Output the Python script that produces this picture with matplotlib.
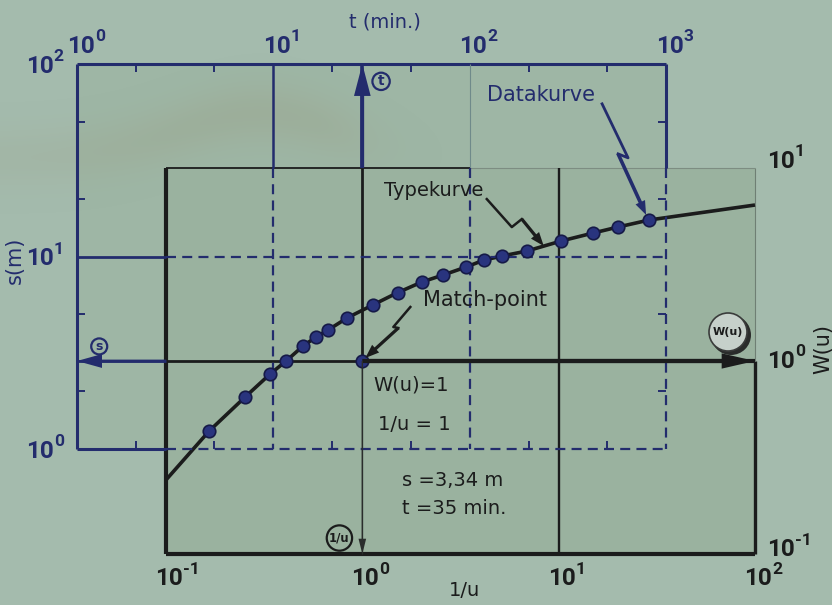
import numpy as np
import matplotlib
matplotlib.use("Agg")
import matplotlib.pyplot as plt
from matplotlib.lines import Line2D
from matplotlib.patches import FancyArrowPatch, Rectangle, Circle
from matplotlib.transforms import IdentityTransform
from matplotlib.ticker import FixedLocator, NullFormatter

# ---------------------------------------------------------------- data
# Data curve: measured drawdown s (m) against time t (min)
t_min = [4.7, 7.2, 9.6, 11.6, 14.2, 16.5, 19.0, 23.7, 32, 43,
         57, 73, 96, 118, 146, 196, 292, 425, 570, 820]
s_m = [1.24, 1.86, 2.45, 2.87, 3.43, 3.82, 4.15, 4.79, 5.60, 6.46,
       7.37, 8.01, 8.82, 9.59, 10.06, 10.7, 12.0, 13.2, 14.2, 15.5]

# Type curve: W(u) against 1/u
inv_u = [0.1, 0.166, 0.253, 0.339, 0.409, 0.499, 0.581, 0.669, 0.836,
         1.13, 1.50, 2.01, 2.58, 3.38, 4.17, 5.15, 6.90, 10.3, 15.0,
         20.1, 28.9, 100]
w_u = [0.242, 0.434, 0.651, 0.856, 1.0, 1.196, 1.331, 1.447, 1.671,
       1.951, 2.251, 2.567, 2.790, 3.069, 3.337, 3.499, 3.715, 4.186,
       4.605, 4.947, 5.378, 6.43]

match_inv_u = 1.0
match_w = 1.0
match_s = "3,34"
match_t = "35"

t_decades = [1, 10, 100, 1000]
s_decades = [1, 10, 100]
inv_u_decades = [0.1, 1, 10, 100]
w_decades = [0.1, 1, 10]
minor_steps = [2, 5]

# ---------------------------------------------------------------- style
W_PX, H_PX = 832, 605
BG = '#a4bbad'
DATA_FILL = '#9eb6a5'
TYPE_FILL = '#9ab29f'
NAVY = '#232c6d'
INK = '#1b1c1c'
FONT = 'DejaVu Sans'
NUM_FONT = ['Roboto', 'DejaVu Sans']

plt.rcParams['font.family'] = [FONT]

fig = plt.figure(figsize=(W_PX / 100, H_PX / 100), dpi=100, facecolor=BG)


def box(x0, y0, x1, y1):
    return [x0 / W_PX, 1 - y1 / H_PX, (x1 - x0) / W_PX, (y1 - y0) / H_PX]


def px(x, y):
    return x / W_PX, 1 - y / H_PX


ax_w = fig.add_axes(box(166, 168, 755, 554), zorder=1)   # type-curve sheet
ax_d = fig.add_axes(box(77, 64, 666, 449), zorder=2)     # data sheet (transparent)

for ax in (ax_d, ax_w):
    ax.set_xscale('log')
    ax.set_yscale('log')
    for sp in ax.spines.values():
        sp.set_visible(False)

ax_d.set_xlim(t_decades[0], t_decades[-1])
ax_d.set_ylim(s_decades[0], s_decades[-1])
ax_w.set_xlim(inv_u_decades[0], inv_u_decades[-1])
ax_w.set_ylim(w_decades[0], w_decades[-1])

ax_d.patch.set_facecolor('none')
ax_w.patch.set_facecolor(TYPE_FILL)
fig.add_artist(Rectangle((0, 0), 1, 1, transform=ax_d.transAxes,
                         fc=DATA_FILL, ec='none', zorder=0.5))

# faint brownish stain across the upper part of the data sheet
yy, xx = np.mgrid[0:H_PX, 0:W_PX].astype(float)
centre = 158 - 45 * np.exp(-((xx - 260) / 120) ** 2)
env = np.exp(-(np.clip(xx - 310, 0, None) / 70) ** 2) * (0.55 + 0.45 * np.exp(-((xx - 250) / 140) ** 2))
inten = np.exp(-((yy - centre) / 30) ** 2) * env
stain = np.zeros((H_PX, W_PX, 4))
stain[..., 0] = 152 / 255
stain[..., 1] = 148 / 255
stain[..., 2] = 118 / 255
stain[..., 3] = 0.22 * inten
fig.figimage(stain, 0, 0, origin='upper', zorder=0.7)

# ---------------------------------------------------------------- ticks
ax_d.xaxis.set_major_locator(FixedLocator(t_decades))
ax_d.yaxis.set_major_locator(FixedLocator(s_decades))
ax_d.xaxis.set_minor_locator(FixedLocator([m * d for d in t_decades[:-1] for m in minor_steps]))
ax_d.yaxis.set_minor_locator(FixedLocator([m * d for d in s_decades[:-1] for m in minor_steps]))
for axis in (ax_d.xaxis, ax_d.yaxis, ax_w.xaxis, ax_w.yaxis):
    axis.set_major_formatter(NullFormatter())
    axis.set_minor_formatter(NullFormatter())
ax_d.tick_params(which='major', length=0, labelbottom=False, labelleft=False)
ax_d.tick_params(which='minor', direction='in', length=6, width=1.4, color=NAVY,
                 top=True, bottom=True, left=True, right=True)
ax_w.xaxis.set_major_locator(FixedLocator(inv_u_decades))
ax_w.yaxis.set_major_locator(FixedLocator(w_decades))
ax_w.xaxis.set_minor_locator(FixedLocator([]))
ax_w.yaxis.set_minor_locator(FixedLocator([]))
ax_w.tick_params(which='major', length=0, labelbottom=False, labelleft=False)


def power_label(ax, xy, coords, value, offset, ha, color):
    """Decade label drawn as '10' with a raised exponent."""
    exp = int(round(np.log10(value)))
    base = ax.annotate('10', xy=xy, xycoords=coords, xytext=offset,
                       textcoords='offset points', ha=ha, va='baseline',
                       fontsize=17.5, fontweight='bold', family=NUM_FONT,
                       color=color, annotation_clip=False, zorder=9)
    ax.annotate('%d' % exp, xy=(1, 1), xycoords=base, xytext=(0.2, -1.5),
                textcoords='offset points', ha='left', va='center',
                fontsize=12.5, fontweight='bold', family=NUM_FONT, color=color,
                annotation_clip=False, zorder=9)


for v in t_decades:
    power_label(ax_d, (v, 1), ('data', 'axes fraction'), v, (2.5, 8), 'center', NAVY)
for v in s_decades:
    power_label(ax_d, (0, v), ('axes fraction', 'data'), v, (-17, -6.3), 'right', NAVY)
for v in inv_u_decades:
    power_label(ax_w, (v, 0), ('data', 'axes fraction'), v, (2, -22.5), 'center', INK)
for v, dy in zip(w_decades, [-1.8, -4.8, 0.3]):
    power_label(ax_w, (1, v), ('axes fraction', 'data'), v, (8.6, dy), 'left', INK)


# ---------------------------------------------------------------- helpers
def w2d(x, y):
    """Type-sheet coordinates -> data-sheet coordinates."""
    return ax_d.transData.inverted().transform(ax_w.transData.transform((x, y)))


def seg(ax, xs, ys, color, lw, style='-', alpha=1.0, z=3):
    kw = dict(color=color, lw=lw, alpha=alpha, clip_on=False, zorder=z,
              solid_capstyle='butt')
    if style == '--':
        ax.plot(xs, ys, ls=(0, (4.5, 2.8)), dash_capstyle='butt', **kw)
    else:
        ax.plot(xs, ys, **kw)


def arrow(p0, p1, color, tail, hl, hw, transform, z=4):
    """Filled arrow whose tip sits exactly on p1 (sizes in points)."""
    a = FancyArrowPatch(p0, p1, transform=transform,
                        arrowstyle='simple,head_length=%g,head_width=%g,tail_width=%g'
                        % (hl, hw, tail),
                        fc=color, ec='none', lw=0, shrinkA=0, shrinkB=0,
                        mutation_scale=1, clip_on=False, zorder=z)
    fig.add_artist(a)


def bolt(ax, target, offsets, color, lw):
    tx, ty = ax.transData.transform(target)
    xs = [tx + dx for dx, dy in offsets]
    ys = [ty + dy for dx, dy in offsets]
    fig.add_artist(Line2D(xs[:-1], ys[:-1], color=color, lw=lw,
                          transform=IdentityTransform(), zorder=6))
    arrow((xs[-2], ys[-2]), (xs[-1], ys[-1]), color, lw * 1.3, 10, 7.5,
          IdentityTransform(), z=6)


t_left, s_top = w2d(inv_u_decades[0], w_decades[-1])
t_mp, s_mp = w2d(match_inv_u, match_w)
inv_u_at_t100 = ax_w.transData.inverted().transform(ax_d.transData.transform((100, 1)))[0]

# ---------------------------------------------------------------- type sheet
lo_w, hi_w = w_decades[0], w_decades[-1]
lo_x, hi_x = inv_u_decades[0], inv_u_decades[-1]
seg(ax_w, [lo_x, lo_x], [lo_w, hi_w], INK, 3.0)
seg(ax_w, [lo_x, hi_x], [lo_w, lo_w], INK, 3.0)
seg(ax_w, [hi_x, hi_x], [lo_w, match_w], INK, 2.4)
seg(ax_w, [hi_x, hi_x], [match_w, hi_w], '#6f7f74', 0.8)
seg(ax_w, [lo_x, inv_u_at_t100], [hi_w, hi_w], INK, 1.3)
seg(ax_w, [inv_u_at_t100, hi_x], [hi_w, hi_w], '#7d8d82', 0.8)
seg(ax_w, [10, 10], [lo_w, hi_w], INK, 1.7)
seg(ax_w, [match_inv_u, match_inv_u], [match_w, hi_w], INK, 2.0)
seg(ax_w, [lo_x, match_inv_u], [match_w, match_w], INK, 2.0)
seg(ax_w, [match_inv_u, hi_x], [match_w, match_w], INK, 3.0)
seg(ax_w, [match_inv_u, match_inv_u], [lo_w, match_w], '#2a2d2c', 0.9)
arrow((match_inv_u, match_w), (hi_x, match_w), INK, 3.0, 24, 11, ax_w.transData, z=4)
arrow((match_inv_u, match_w), (match_inv_u, lo_w), '#2a2d2c', 1.0, 11, 5.5,
      ax_w.transData, z=4)

# type curve
ax_w.plot(inv_u, w_u, color=INK, lw=2.6, zorder=5, solid_capstyle='butt', clip_on=False)

# ---------------------------------------------------------------- data sheet
lo_t, hi_t = t_decades[0], t_decades[-1]
lo_s, hi_s = s_decades[0], s_decades[-1]
seg(ax_d, [lo_t, lo_t], [lo_s, hi_s], NAVY, 2.2)
seg(ax_d, [lo_t, hi_t], [hi_s, hi_s], NAVY, 2.2)
seg(ax_d, [hi_t, hi_t], [hi_s, s_top], NAVY, 2.2)
seg(ax_d, [hi_t, hi_t], [s_top, lo_s], NAVY, 1.6, '--')
seg(ax_d, [10, 10], [hi_s, s_top], NAVY, 1.8)
seg(ax_d, [10, 10], [s_top, lo_s], NAVY, 1.6, '--')
seg(ax_d, [100, 100], [hi_s, s_top], '#6f8a8a', 0.8)
seg(ax_d, [100, 100], [s_top, lo_s], NAVY, 1.6, '--')
seg(ax_d, [lo_t, t_left], [10, 10], NAVY, 2.0)
seg(ax_d, [t_left, hi_t], [10, 10], NAVY, 1.6, '--')
seg(ax_d, [lo_t, t_left], [lo_s, lo_s], NAVY, 2.2)
seg(ax_d, [t_left, hi_t], [lo_s, lo_s], NAVY, 1.6, '--')

# match-point transfer lines
seg(ax_d, [t_mp, t_mp], [s_top, hi_s], NAVY, 2.6)
seg(ax_d, [lo_t, t_left], [s_mp, s_mp], NAVY, 2.0)
arrow((t_mp, s_top), (t_mp, hi_s), NAVY, 2.6, 23, 12, ax_d.transData, z=4)
arrow((t_left, s_mp), (lo_t, s_mp), NAVY, 2.0, 18, 10, ax_d.transData, z=4)

# measured points and the match point
ax_d.plot(t_min, s_m, 'o', ms=9, mfc='#29347e', mec='#161a48', mew=1.2,
          zorder=7, clip_on=False)
ax_w.plot([match_inv_u], [match_w], 'o', ms=9, mfc='#29347e', mec='#161a48',
          mew=1.2, zorder=7)

# ---------------------------------------------------------------- circled marks
circ = dict(boxstyle='circle,pad=0.12', fc='none', lw=1.6)
ax_d.annotate('t', xy=(t_mp, hi_s), xytext=(13.5, -12.5), textcoords='offset points',
              ha='center', va='center', fontsize=10, fontweight='bold', color=NAVY,
              bbox=dict(circ, ec=NAVY), annotation_clip=False, zorder=8)
ax_d.annotate('s', xy=(lo_t, s_mp), xytext=(16, 10.5), textcoords='offset points',
              ha='center', va='center', fontsize=9, fontweight='bold', color=NAVY,
              bbox=dict(circ, ec=NAVY), annotation_clip=False, zorder=8)

# W(u) badge with a drop shadow
bx, by = ax_w.transData.transform((hi_x, match_w))
cx, cy = bx - 27, by + 29
fig.add_artist(Circle((cx + 3, cy - 3), 20, transform=IdentityTransform(),
                      fc='#2a2c2b', ec='none', zorder=8))
fig.add_artist(Circle((cx, cy), 19, transform=IdentityTransform(),
                      fc='#c6d0ca', ec='#3a3c3b', lw=1.2, zorder=9))
fig.text(cx / W_PX, cy / H_PX, 'W(u)', ha='center', va='center', fontsize=8,
         fontweight='bold', color=INK, zorder=10)

ax_w.annotate('1/u', xy=(match_inv_u, lo_w), xytext=(-16.5, 11.5), textcoords='offset points',
              ha='center', va='center', fontsize=8.5, fontweight='bold', color=INK,
              bbox=dict(boxstyle='circle,pad=0.2', fc='none', ec=INK, lw=1.6),
              annotation_clip=False, zorder=8)

# ---------------------------------------------------------------- pointers
bolt(ax_d, (t_min[-1], s_m[-1]), [(-47, 116), (-21, 62), (-31, 66), (-3, 5)], NAVY, 2.0)
t_ptr = 8.4
bolt(ax_w, (t_ptr, 10 ** np.interp(np.log10(t_ptr), np.log10(inv_u), np.log10(w_u))),
     [(-57, 47), (-32, 19), (-22, 27), (0, 0)], INK, 1.8)
bolt(ax_w, (match_inv_u, match_w), [(48, 54), (31, 34), (36, 33), (3, 3)], INK, 1.8)

# ---------------------------------------------------------------- text
fig.text(*px(385, 22), 't (min.)', ha='center', va='center', fontsize=14, color=NAVY)
fig.text(*px(15, 260), 's(m)', ha='center', va='center', fontsize=15, color=NAVY,
         rotation=90)
fig.text(*px(823, 349), 'W(u)', ha='center', va='center', fontsize=15, color=INK,
         rotation=90)
fig.text(*px(465, 591), '1/u', ha='center', va='center', fontsize=14, color=INK)
fig.text(*px(541, 95), 'Datakurve', ha='center', va='center', fontsize=15, color=NAVY)
fig.text(*px(434, 191), 'Typekurve', ha='center', va='center', fontsize=14, color=INK)
fig.text(*px(485, 300), 'Match-point', ha='center', va='center', fontsize=15, color=INK)
fig.text(*px(373, 385), 'W(u)=1', ha='left', va='center', fontsize=14, color=INK)
fig.text(*px(378, 424), '1/u = 1', ha='left', va='center', fontsize=14, color=INK)
fig.text(*px(402, 481), 's =%s m' % match_s, ha='left', va='center', fontsize=14, color=INK)
fig.text(*px(402, 509), 't =%s min.' % match_t, ha='left', va='center', fontsize=14,
         color=INK)

fig.savefig('out.png', dpi=100, facecolor=BG)
